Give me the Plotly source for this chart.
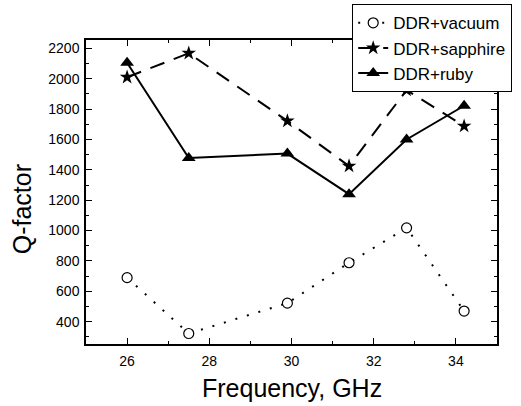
import plotly.graph_objects as go

freq = [26.0, 27.5, 29.9, 31.4, 32.8, 34.2]
q_vacuum = [690, 322, 522, 788, 1018, 470]
q_sapphire = [2010, 2168, 1722, 1425, 1925, 1688]
q_ruby = [2105, 1478, 1507, 1240, 1600, 1822]

names = ["DDR+vacuum", "DDR+sapphire", "DDR+ruby"]
x_ticks = [26, 28, 30, 32, 34]
y_ticks = [400, 600, 800, 1000, 1200, 1400, 1600, 1800, 2000, 2200]

fig = go.Figure()
fig.add_trace(go.Scatter(
    x=freq, y=q_vacuum, name=names[0], mode="lines+markers",
    line=dict(color="black", width=2, dash="2px,10px"),
    marker=dict(symbol="circle", size=10, color="white", line=dict(width=1.2, color="black")),
))
fig.add_trace(go.Scatter(
    x=freq, y=q_sapphire, name=names[1], mode="lines+markers",
    line=dict(color="black", width=2, dash="15px,10px"),
    marker=dict(symbol="star", size=11, color="black", line=dict(width=0)),
))
fig.add_trace(go.Scatter(
    x=freq, y=q_ruby, name=names[2], mode="lines+markers",
    line=dict(color="black", width=2),
    marker=dict(symbol="triangle-up", size=12, color="black", line=dict(width=0)),
))

axis_common = dict(
    showline=True, linecolor="black", linewidth=1.5, mirror="allticks",
    ticks="inside", ticklen=6, tickwidth=1.2, tickcolor="black",
    showgrid=False, zeroline=False, automargin=False,
    tickfont=dict(family="Liberation Sans, Arial", size=14, color="black"),
)

fig.update_xaxes(
    range=[25, 35], tickvals=x_ticks,
    minor=dict(ticks="inside", ticklen=3, dtick=1, tick0=25, tickcolor="black", tickwidth=1.2),
    ticklabelstandoff=3,
    **axis_common,
)
fig.update_yaxes(
    range=[253, 2255], tickvals=y_ticks,
    minor=dict(ticks="inside", ticklen=3, dtick=100, tick0=300, tickcolor="black", tickwidth=1.2),
    ticklabelstandoff=2,
    **axis_common,
)

fig.add_annotation(
    text="Frequency, GHz", xref="paper", yref="paper", x=0.5, y=-0.145,
    xanchor="center", yanchor="middle", showarrow=False,
    font=dict(family="Liberation Sans, Arial", size=25, color="black"),
)
fig.add_annotation(
    text="Q-factor", xref="paper", yref="paper", x=-0.155, y=0.444,
    xanchor="center", yanchor="middle", showarrow=False, textangle=-90,
    font=dict(family="Liberation Sans, Arial", size=25, color="black"),
)

fig.update_layout(
    width=521, height=406,
    margin=dict(l=86, r=24, t=40, b=62, autoexpand=False),
    paper_bgcolor="white", plot_bgcolor="white",
    showlegend=True,
    legend=dict(
        xref="container", yref="container",
        x=0.6756, y=0.99, xanchor="left", yanchor="top",
        bgcolor="white", bordercolor="black", borderwidth=1.2,
        font=dict(family="Liberation Sans, Arial", size=17, color="black"),
        tracegroupgap=0, itemwidth=30, entrywidth=150, entrywidthmode="pixels",
    ),
)

fig.write_html(
    "out.html",
    config={"displayModeBar": False},
    post_script="document.body.style.margin='0';document.body.style.overflow='hidden';",
)
